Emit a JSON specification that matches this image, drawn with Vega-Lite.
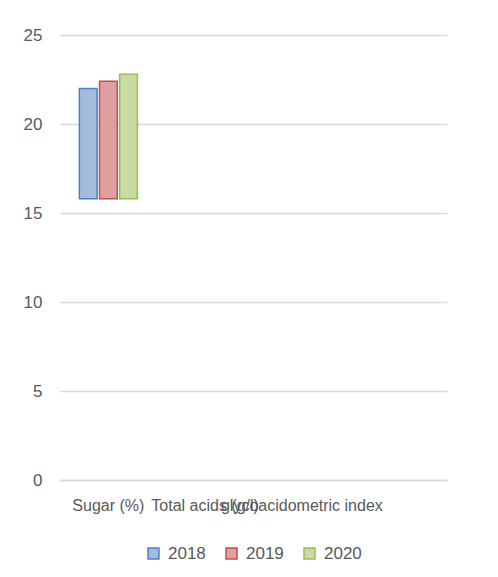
{
  "$schema": "https://vega.github.io/schema/vega-lite/v6.json",
  "autosize": "none",
  "padding": {"left": 60, "top": 35, "right": 51, "bottom": 97},
  "width": 387,
  "height": 445,
  "background": "white",
  "config": {
    "font": "Liberation Sans",
    "view": {"stroke": null},
    "legend": {"layout": {"bottom": {"anchor": "middle"}}}
  },
  "data": {
    "values": [
      {"category": "Sugar (%)", "year": "2018", "low": 15.8, "value": 22.0},
      {"category": "Sugar (%)", "year": "2019", "low": 15.8, "value": 22.4},
      {"category": "Sugar (%)", "year": "2020", "low": 15.8, "value": 22.8}
    ]
  },
  "mark": {"type": "bar", "strokeWidth": 1.5},
  "encoding": {
    "x": {
      "field": "category",
      "type": "nominal",
      "sort": null,
      "scale": {
        "domain": ["Sugar (%)", "Total acids (g/l)", "glycoacidometric index", "_"],
        "paddingInner": 0.4,
        "paddingOuter": 0.2
      },
      "axis": {
        "title": null,
        "labelAngle": 0,
        "labelOverlap": false,
        "labelLimit": 0,
        "labelExpr": "datum.value == '_' ? '' : datum.value",
        "labelFontSize": 16,
        "labelColor": "#595959",
        "labelPadding": 17,
        "ticks": false,
        "domainColor": "#d9d9d9",
        "domainWidth": 1.5
      }
    },
    "xOffset": {
      "field": "year",
      "type": "nominal",
      "scale": {"paddingInner": 0.12, "paddingOuter": 0}
    },
    "y": {
      "field": "value",
      "type": "quantitative",
      "scale": {"domain": [0, 25], "nice": false, "zero": true},
      "axis": {
        "title": null,
        "values": [0, 5, 10, 15, 20, 25],
        "labelFontSize": 17,
        "labelColor": "#595959",
        "labelPadding": 18,
        "ticks": false,
        "domain": false,
        "gridColor": "#d9d9d9",
        "gridWidth": 1.5
      }
    },
    "y2": {"field": "low"},
    "fill": {
      "field": "year",
      "type": "nominal",
      "scale": {"range": ["#a3bcdd", "#df9f9e", "#c8dba0"]},
      "legend": {
        "title": null,
        "orient": "bottom",
        "direction": "horizontal",
        "symbolType": "square",
        "symbolSize": 120,
        "symbolStrokeWidth": 1.5,
        "labelFontSize": 17,
        "labelColor": "#595959",
        "offset": 32,
        "columnPadding": 17,
        "labelOffset": 6
      }
    },
    "stroke": {
      "field": "year",
      "type": "nominal",
      "scale": {"range": ["#4f81bd", "#c0504d", "#9bbb59"]},
      "legend": null
    }
  }
}
